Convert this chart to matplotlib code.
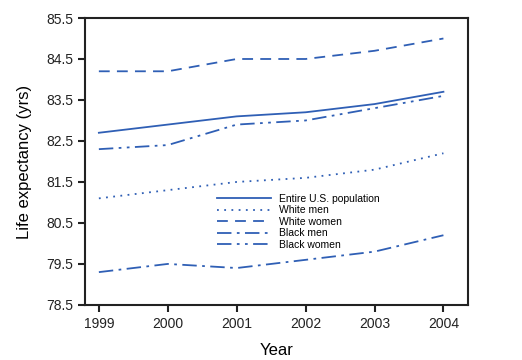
import numpy as np
import matplotlib
matplotlib.use("Agg")
import matplotlib.pyplot as plt

plt.rcParams['font.family'] = ['Liberation Sans', 'DejaVu Sans']

years = [1999, 2000, 2001, 2002, 2003, 2004]
entire = [82.7, 82.9, 83.1, 83.2, 83.4, 83.7]
white_men = [81.1, 81.3, 81.5, 81.6, 81.8, 82.2]
white_women = [84.2, 84.2, 84.5, 84.5, 84.7, 85.0]
black_men = [79.3, 79.5, 79.4, 79.6, 79.8, 80.2]
black_women = [82.3, 82.4, 82.9, 83.0, 83.3, 83.6]
yticks = [78.5, 79.5, 80.5, 81.5, 82.5, 83.5, 84.5, 85.5]

fig = plt.figure(figsize=(5.22, 3.60), dpi=100)
ax = fig.add_axes([0.163, 0.153, 0.734, 0.797])

c = '#2f5fb5'
ax.plot(years, entire, color=c, lw=1.3, ls='-', label='Entire U.S. population')
ax.plot(years, white_men, color=c, lw=1.3, ls=(0, (1, 3)), label='White men')
ax.plot(years, white_women, color=c, lw=1.3, ls=(0, (6, 4)), label='White women')
ax.plot(years, black_men, color=c, lw=1.3, ls=(0, (8, 3, 1.5, 3)), label='Black men')
ax.plot(years, black_women, color=c, lw=1.3, ls=(0, (8, 3, 1.5, 3, 1.5, 3)), label='Black women')

ax.set_xlim(1998.8, 2004.36)
ax.set_ylim(78.5, 85.5)
ax.set_xticks(years)
ax.set_yticks(yticks)
ax.set_yticklabels([f'{v:.1f}' for v in yticks])
ax.tick_params(direction='out', length=5, width=1.5, labelsize=10, color='#222222',
               labelcolor='#222222')
ax.tick_params(axis='y', right=False)
for s in ax.spines.values():
    s.set_linewidth(1.5)
    s.set_color('#222222')

ax.set_xlabel('Year', fontsize=12, labelpad=9)
ax.set_ylabel('Life expectancy (yrs)', fontsize=12, labelpad=10)

ax.legend(loc='upper left', bbox_to_anchor=(0.32, 0.42), frameon=False,
          fontsize=7.5, handlelength=5.2, labelspacing=0.15, handletextpad=0.7)

fig.savefig('out.png', dpi=100)
